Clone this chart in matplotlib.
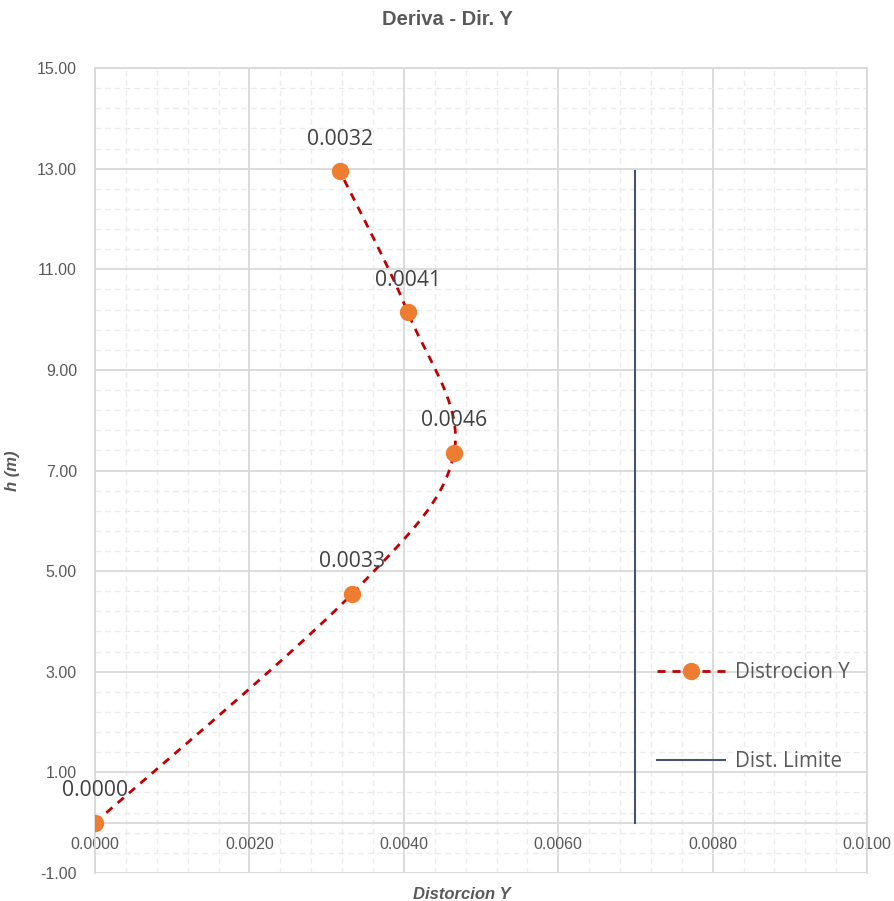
import numpy as np
import matplotlib
matplotlib.use("Agg")
import matplotlib.pyplot as plt
from matplotlib.ticker import MultipleLocator, FormatStrFormatter

# Datos
distorsion = [0.0000, 0.0033, 0.0046, 0.0041, 0.0032]
distorsion_real = [0.0000, 0.00333, 0.00465, 0.00405, 0.00317]
altura = [0.00, 4.55, 7.35, 10.15, 12.95]
limite_x = [0.007, 0.007]
limite_y = [0.00, 12.95]

fig = plt.figure(figsize=(8.94, 9.01), dpi=100)
ax = fig.add_axes([0.1063, 0.0311, 0.8636, 0.8934])
ax.set_xlim(0, 0.01)
ax.set_ylim(-1, 15)

gris = "#595959"
grid_c = "#d9d9d9"

# Curva suavizada tipo Excel (Bezier / Catmull-Rom en espacio de pantalla)
sx = 772 / 0.01
sy = 805 / 16.0
P = np.column_stack([np.array(distorsion_real) * sx, np.array(altura) * sy])
n = len(P)
curva = []
for i in range(n - 1):
    p0 = P[max(i - 1, 0)]
    p1 = P[i]
    p2 = P[i + 1]
    p3 = P[min(i + 2, n - 1)]
    c1 = p1 + (p2 - p0) / 6.0
    c2 = p2 - (p3 - p1) / 6.0
    t = np.linspace(0, 1, 60)[:, None]
    seg = (1 - t) ** 3 * p1 + 3 * (1 - t) ** 2 * t * c1 + 3 * (1 - t) * t ** 2 * c2 + t ** 3 * p2
    curva.append(seg if i == 0 else seg[1:])
curva = np.vstack(curva)

ax.plot(curva[:, 0] / sx, curva[:, 1] / sy, color="#C00000", lw=2.0,
        dashes=(2.9, 2.5), zorder=3)
ax.plot(distorsion_real, altura, linestyle="none", marker="o", ms=11.5,
        color="#ED7D31", zorder=4)
# entrada de leyenda
ax.plot([], [], color="#C00000", lw=2.0, dashes=(2.9, 2.5), marker="o", ms=11.5,
        mfc="#ED7D31", mec="#ED7D31", label="Distrocion Y")
ax.plot(limite_x, limite_y, color="#44546A", lw=1.5, zorder=3, label="Dist. Limite")

for xv, yv, lab in zip(distorsion_real, altura, distorsion):
    ax.annotate(f"{lab:.4f}", (xv, yv), xytext=(0, 23), textcoords="offset points",
                ha="center", va="center", fontsize=15.2, color="#404040",
                family="Open Sans", zorder=5)

# Ejes y grilla
ax.xaxis.set_major_locator(MultipleLocator(0.002))
ax.xaxis.set_minor_locator(MultipleLocator(0.0004))
ax.set_yticks(np.arange(-1, 15.1, 2))
ax.set_yticks(np.arange(-1, 15.01, 0.4), minor=True)
ax.xaxis.set_major_formatter(FormatStrFormatter("%.4f"))
ax.yaxis.set_major_formatter(FormatStrFormatter("%.2f"))
ax.grid(which="major", color=grid_c, lw=1.3, zorder=0)
ax.grid(which="minor", color="#ececec", lw=1.0, ls=(0, (4, 3)), zorder=0)
ax.set_axisbelow(True)

for s in ["top", "right", "left", "bottom"]:
    ax.spines[s].set_color(grid_c)
    ax.spines[s].set_linewidth(1.3)
ax.spines["bottom"].set_position(("data", 0))
ax.axhline(-1, color=grid_c, lw=1.3, zorder=0)

ax.tick_params(which="both", length=0)
ax.tick_params(axis="x", pad=10, labelsize=11.5, labelcolor=gris)
ax.tick_params(axis="y", pad=13, labelsize=11.5, labelcolor=gris)
for lab in ax.get_xticklabels() + ax.get_yticklabels():
    lab.set_family("Liberation Sans")

ax.set_xlabel("Distorcion Y", fontsize=12, fontweight="bold", style="italic",
              color=gris, family="Liberation Sans")
ax.xaxis.set_label_coords(0.475, -0.017)
ax.set_ylabel("h (m)", fontsize=12, fontweight="bold", style="italic",
              color=gris, family="Liberation Sans")
ax.yaxis.set_label_coords(-0.097, 0.5)

fig.suptitle("Deriva - Dir. Y", x=0.5, y=0.978, va="center", fontsize=14.5,
             fontweight="bold", color=gris, family="Liberation Sans")

leg = ax.legend(loc="center left", bbox_to_anchor=(0.7035, 0.194), frameon=False,
                labelspacing=3.3, handlelength=3.3, handletextpad=0.5,
                prop={"family": "Open Sans", "size": 14.8})
for t in leg.get_texts():
    t.set_color(gris)

fig.savefig("out.png", dpi=100)
